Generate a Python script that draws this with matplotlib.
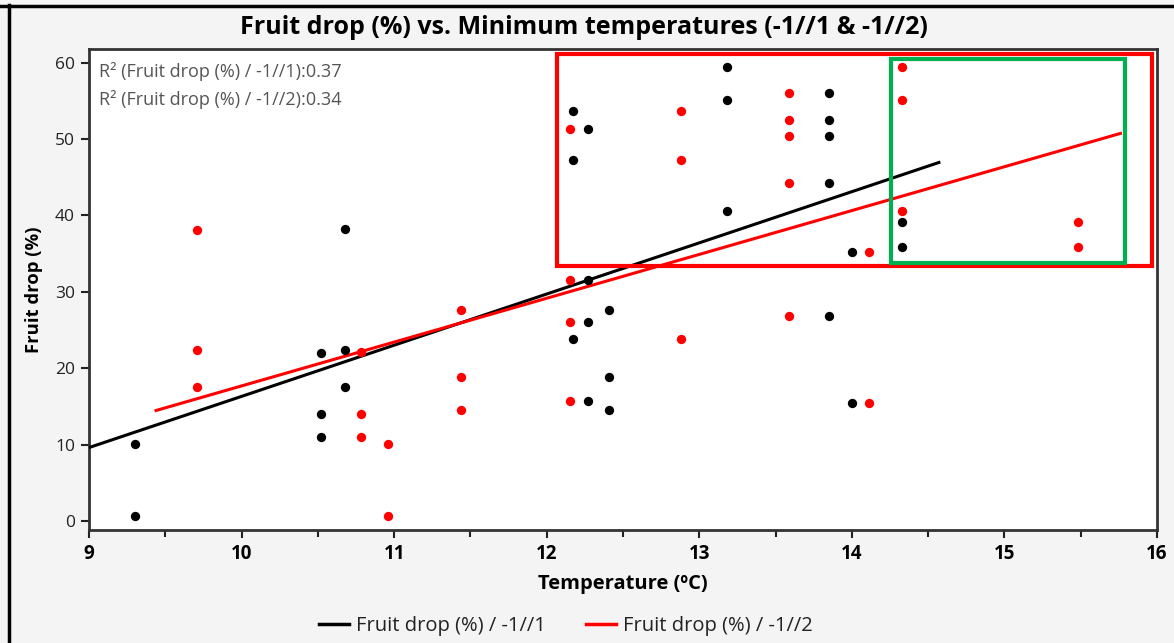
import matplotlib
matplotlib.use("Agg")
import matplotlib.pyplot as plt
from matplotlib.lines import Line2D
from matplotlib.patches import Rectangle

# ---- data ----
black_x = [9.3, 9.3, 10.52, 10.52, 10.52, 10.68, 10.68, 10.68,
           12.17, 12.17, 12.17, 12.27, 12.27, 12.27, 12.27,
           12.41, 12.41, 12.41, 13.18, 13.18, 13.18,
           13.85, 13.85, 13.85, 13.85, 13.85, 14.0, 14.0, 14.33, 14.33]
black_y = [10.1, 0.6, 11.0, 14.0, 22.0, 22.4, 17.5, 38.2,
           53.7, 47.3, 23.8, 51.3, 31.6, 26.1, 15.7,
           27.6, 18.9, 14.5, 59.4, 55.1, 40.6,
           56.0, 52.5, 50.4, 44.3, 26.8, 35.2, 15.4, 39.1, 35.9]
red_x = [9.71, 9.71, 9.71, 10.78, 10.78, 10.78, 10.96, 10.96,
         11.44, 11.44, 11.44, 12.15, 12.15, 12.15, 12.15,
         12.88, 12.88, 12.88, 13.59, 13.59, 13.59, 13.59, 13.59,
         14.11, 14.11, 14.33, 14.33, 14.33, 15.48, 15.48]
red_y = [38.1, 22.4, 17.5, 22.1, 14.0, 11.0, 10.1, 0.6,
         27.6, 18.9, 14.5, 51.3, 31.6, 26.1, 15.7,
         53.7, 47.3, 23.8, 56.0, 52.5, 50.4, 44.3, 26.8,
         35.2, 15.4, 59.4, 55.1, 40.6, 39.1, 35.9]

# fitted lines (endpoints)
fit1_x = [9.0, 14.58]
fit1_y = [9.6, 47.0]
fit2_x = [9.43, 15.77]
fit2_y = [14.4, 50.8]

r2_1 = 0.37
r2_2 = 0.34

series_labels = ["Fruit drop (%) / -1//1", "Fruit drop (%) / -1//2"]
x_ticks = [9, 10, 11, 12, 13, 14, 15, 16]
y_ticks = [0, 10, 20, 30, 40, 50, 60]

# highlight boxes (data coords)
red_box = (12.067, 33.4, 15.97, 61.1)
green_box = (14.256, 33.8, 15.789, 60.5)

FONT = ["Open Sans", "DejaVu Sans"]
plt.rcParams["font.family"] = FONT

fig = plt.figure(figsize=(11.74, 6.43), dpi=100, facecolor="#f4f4f4")
ax = fig.add_axes([0.0758, 0.1757, 0.9097, 0.7481])
ax.set_facecolor("white")

ax.plot(fit1_x, fit1_y, color="black", lw=2.2, solid_capstyle="butt", zorder=3)
ax.plot(fit2_x, fit2_y, color="#ff0000", lw=2.2, solid_capstyle="butt", zorder=3)
ax.scatter(black_x, black_y, s=45, color="black", zorder=4, linewidths=0)
ax.scatter(red_x, red_y, s=45, color="#ff0000", zorder=4, linewidths=0)

ax.set_xlim(9, 16)
ax.set_ylim(-1.2, 61.8)
ax.set_xticks(x_ticks)
ax.set_xticks([9.5 + i for i in range(7)], minor=True)
ax.set_yticks(y_ticks)
ax.set_xticklabels([str(t) for t in x_ticks], fontsize=13.5, fontweight="bold", color="black")
ax.set_yticklabels([str(t) for t in y_ticks], fontsize=12.5, color="#222222")
ax.tick_params(axis="both", which="major", direction="out", length=6, width=1.5, color="#222222", pad=4)
ax.tick_params(axis="x", which="minor", direction="out", length=5, width=1.5, color="#222222")
for sp in ax.spines.values():
    sp.set_color("#333333")
    sp.set_linewidth(2)

ax.set_xlabel("Temperature (ºC)", fontsize=14.5, fontweight="bold", labelpad=7)
ax.set_ylabel("Fruit drop (%)", fontsize=13.3, fontweight="bold", labelpad=9)

fig.text(0.497, 0.957, "Fruit drop (%) vs. Minimum temperatures (-1//1 & -1//2)",
         ha="center", va="center", fontsize=18, fontweight="bold")

ax.text(0.009, 0.972, f"R² (Fruit drop (%) / -1//1):{r2_1:.2f}", transform=ax.transAxes,
        ha="left", va="top", fontsize=13, color="#555555")
ax.text(0.009, 0.914, f"R² (Fruit drop (%) / -1//2):{r2_2:.2f}", transform=ax.transAxes,
        ha="left", va="top", fontsize=13, color="#555555")

for (x0, y0, x1, y1), col in [(red_box, "#ff0000"), (green_box, "#00b050")]:
    ax.add_patch(Rectangle((x0, y0), x1 - x0, y1 - y0, fill=False, edgecolor=col,
                           lw=3, clip_on=False, zorder=5))

handles = [Line2D([], [], color="black", lw=2.5), Line2D([], [], color="#ff0000", lw=2.5)]
fig.legend(handles, series_labels, loc="center", bbox_to_anchor=(0.482, 0.027), ncol=2,
           frameon=False, fontsize=14.5, handlelength=1.5, handletextpad=0.35,
           columnspacing=2.0, labelcolor="#222222")

# outer frame lines (top and left)
fig.add_artist(Line2D([0.0, 1.0], [0.991, 0.991], transform=fig.transFigure, color="black", lw=2.5))
fig.add_artist(Line2D([0.0077, 0.0077], [0.0, 0.993], transform=fig.transFigure, color="black", lw=2.5))

fig.savefig("out.png", dpi=100, facecolor=fig.get_facecolor())
